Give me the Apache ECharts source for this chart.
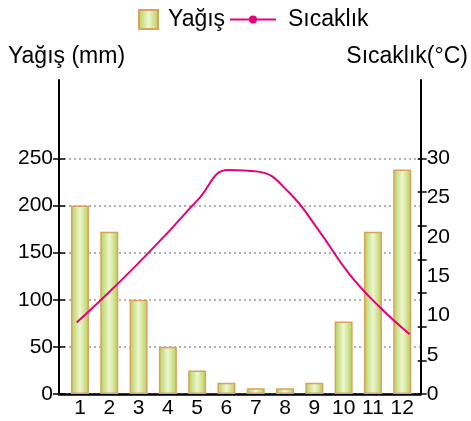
<!DOCTYPE html>
<html lang="tr" style="height: 100%">

<head>
  <meta charset="utf-8">
</head>

<body style="height: 100%; margin: 0; background: #fff">
  <div id="container" style="width: 471px; height: 421px"></div>

  <script type="text/javascript" src="https://fastly.jsdelivr.net/npm/echarts@6.0.0/dist/echarts.min.js"></script>

  <script type="text/javascript">
    // values
    const months = [1, 2, 3, 4, 5, 6, 7, 8, 9, 10, 11, 12];
    const rain = [200, 172, 100, 50, 25, 12, 6, 6, 12, 77, 172, 238];
    const temp = [9.1, 12.7, 16.5, 20.5, 24.7, 28.5, 28.3, 25.7, 20.8, 15.3, 11.1, 7.6];
    const rainTicks = [0, 50, 100, 150, 200, 250];
    const tempLabels = [0, 5, 10, 15, 20, 25, 30];
    // the right axis has 7 tick marks between 0 and 30, not on the labels
    const tempTicks = [0, 4.29, 8.57, 12.86, 17.14, 21.43, 25.71, 30];

    var dom = document.getElementById('container');
    var myChart = echarts.init(dom, null, { renderer: 'canvas' });

    const font = 'Liberation Sans';
    const barColor = new echarts.graphic.LinearGradient(0, 0, 1, 0, [
      { offset: 0, color: '#b3d055' },
      { offset: 0.5, color: '#eef6d2' },
      { offset: 1, color: '#b3d055' }
    ]);

    var option = {
      textStyle: { fontFamily: font },
      legend: [
        {
          data: [{ name: 'Yağış', icon: 'rect' }],
          left: 138,
          top: 8,
          padding: 0,
          itemWidth: 19,
          itemHeight: 19,
          textStyle: { fontSize: 23, color: '#000', padding: [0, 0, 0, 5] }
        },
        {
          data: ['Sıcaklık'],
          left: 229,
          top: 8,
          padding: 0,
          itemWidth: 46,
          itemHeight: 10,
          textStyle: { fontSize: 23, color: '#000', padding: [0, 0, 0, 7] }
        }
      ],
      grid: { left: 59, right: 50, top: 80, bottom: 27 },
      xAxis: [
        {
          type: 'value',
          min: 0.284,
          max: 12.63,
          axisLine: { lineStyle: { color: '#000', width: 2.5 } },
          axisTick: { show: false },
          splitLine: { show: false },
          axisLabel: {
            customValues: months,
            fontSize: 21,
            color: '#000',
            margin: 4
          }
        },
        {
          type: 'value',
          min: 0.416,
          max: 12.363,
          show: false
        }
      ],
      yAxis: [
        {
          type: 'value',
          position: 'left',
          min: 0,
          max: 333,
          name: 'Yağış (mm)',
          nameLocation: 'end',
          nameGap: 12,
          nameTextStyle: { fontSize: 23, color: '#000', padding: [0, 0, 0, 15] },
          axisLine: { show: true, lineStyle: { color: '#000', width: 2 } },
          axisTick: { show: true, customValues: rainTicks, length: 6, lineStyle: { color: '#000', width: 1.5 } },
          axisLabel: { customValues: rainTicks, fontSize: 21, color: '#000', margin: 6 },
          splitLine: {
            show: true,
            lineStyle: { color: '#999', type: [2, 3], width: 1.5 }
          }
        },
        {
          type: 'value',
          position: 'right',
          min: 0,
          max: 39.96,
          name: 'Sıcaklık(°C)',
          nameLocation: 'end',
          nameGap: 12,
          nameTextStyle: { fontSize: 23, color: '#000', padding: [0, 27, 0, 0] },
          axisLine: { show: true, lineStyle: { color: '#000', width: 2 } },
          axisTick: { show: true, customValues: tempTicks, length: 6, lineStyle: { color: '#000', width: 1.5 } },
          axisLabel: { customValues: tempLabels, fontSize: 21, color: '#000', margin: 6 },
          splitLine: { show: false }
        },
        {
          // inner half of the crossing ticks on the left
          type: 'value',
          position: 'left',
          min: 0,
          max: 333,
          axisLine: { show: false },
          axisTick: { show: true, inside: true, customValues: rainTicks, length: 6, lineStyle: { color: '#000', width: 1.5 } },
          axisLabel: { show: false },
          splitLine: { show: false }
        },
        {
          type: 'value',
          position: 'right',
          min: 0,
          max: 39.96,
          axisLine: { show: false },
          axisTick: { show: true, inside: true, customValues: tempTicks, length: 3, lineStyle: { color: '#000', width: 1.5 } },
          axisLabel: { show: false },
          splitLine: { show: false }
        }
      ],
      series: [
        {
          name: 'Yağış',
          type: 'bar',
          xAxisIndex: 0,
          yAxisIndex: 0,
          barWidth: 18,
          data: months.map((m, i) => [m, rain[i]]),
          itemStyle: {
            color: barColor,
            borderColor: '#d9a35c',
            borderWidth: 1.5
          },
          z: 3
        },
        {
          name: 'Sıcaklık',
          type: 'line',
          xAxisIndex: 1,
          yAxisIndex: 1,
          smooth: 0.45,
          symbol: 'circle',
          showSymbol: false,
          data: months.map((m, i) => [m, temp[i]]),
          lineStyle: { color: '#e6007e', width: 2 },
          itemStyle: { color: '#e6007e' },
          z: 4
        }
      ]
    };

    if (option && typeof option === 'object') {
      myChart.setOption(option);
    }

    window.addEventListener('resize', myChart.resize);
  </script>
</body>

</html>
